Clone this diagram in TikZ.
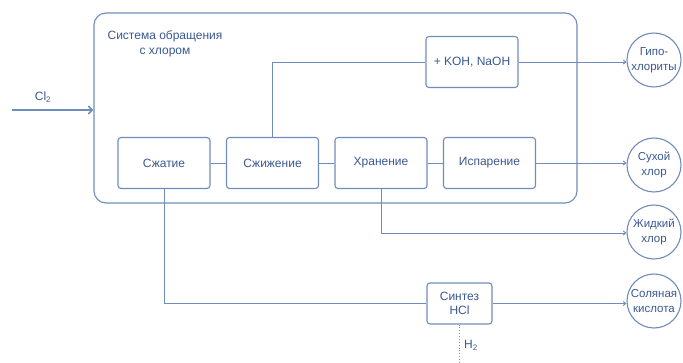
\documentclass[tikz,border=0pt]{standalone}
\usepackage{fontspec}
\setmainfont{Liberation Sans}
\usetikzlibrary{arrows.meta}
\definecolor{ln}{RGB}{112,140,188}
\definecolor{tx}{RGB}{58,88,145}
\tikzset{
  stepbox/.style={draw=ln, line width=1.1pt, rounded corners=3pt, minimum width=92pt, minimum height=51pt, inner sep=1pt, text=tx, font=\fontsize{12}{14}\selectfont, align=center},
  endcirc/.style={draw=ln, line width=1.1pt, circle, minimum size=54pt, inner sep=0pt, text=tx, font=\fontsize{11.5}{14.5}\selectfont, align=center},
  conn/.style={draw=ln, line width=0.9pt},
  outarr/.style={conn, -{Straight Barb[length=2.5pt,width=4pt]}},
  lbl/.style={text=tx, font=\fontsize{12}{15}\selectfont, align=center, inner sep=0pt}
}
\begin{document}
\begin{tikzpicture}[x=1pt,y=-1pt]
\useasboundingbox (0,0) rectangle (683,363);
\fill[white] (0,0) rectangle (683,363);
% system box
\node[draw=ln, line width=1.1pt, rounded corners=12pt, minimum width=483pt, minimum height=190pt, inner sep=0pt] (sys) at (335.5,108) {};
\node[lbl] (title) at (165,44) {Система обращения\\с хлором};
% Cl2 input
\coordinate (clin) at (12,110);
\draw[draw=ln, line width=1.6pt, -{Straight Barb[length=4pt,width=8pt]}] (clin) -- (clin -| sys.west);
\node[lbl] (cl2) at (43,97) {Cl\textsubscript{2}};
% process boxes
\node[stepbox] (szh) at (164,163) {Сжатие};
\node[stepbox] (szhizh) at (272.5,163) {Сжижение};
\node[stepbox] (hran) at (381,163) {Хранение};
\node[stepbox] (isp) at (489.5,163) {Испарение};
\node[stepbox] (koh) at (472,62) {+ KOH, NaOH};
\node[stepbox, minimum width=65pt, minimum height=41pt] (hcl) at (459.5,303.5) {Синтез\\HCl};
% end products
\node[endcirc] (gipo) at (654,60) {Гипо-\\хлориты};
\node[endcirc] (suh) at (654,165) {Сухой\\хлор};
\node[endcirc] (zhid) at (654,232) {Жидкий\\хлор};
\node[endcirc] (sol) at (654,301) {Соляная\\кислота};
% connectors
\draw[conn] (szh) -- (szhizh);
\draw[conn] (szhizh) -- (hran);
\draw[conn] (hran) -- (isp);
\draw[conn] (szhizh.north) |- (koh.west);
\draw[outarr] (koh.east) -- (koh.east -| gipo.west);
\draw[outarr] (isp.east) -- (isp.east -| suh.west);
\draw[outarr] (hran.south) |- ([yshift=-1pt]zhid.west);
\draw[conn] (szh.south) |- (hcl.west);
\draw[outarr] (hcl.east) -- (hcl.east -| sol.west);
% H2 feed
\coordinate (h2in) at (459.5,363);
\draw[draw=ln, line width=0.9pt, dotted] (h2in) -- (hcl.south);
\node[lbl] (h2) at (471,345) {H\textsubscript{2}};
\end{tikzpicture}
\end{document}
